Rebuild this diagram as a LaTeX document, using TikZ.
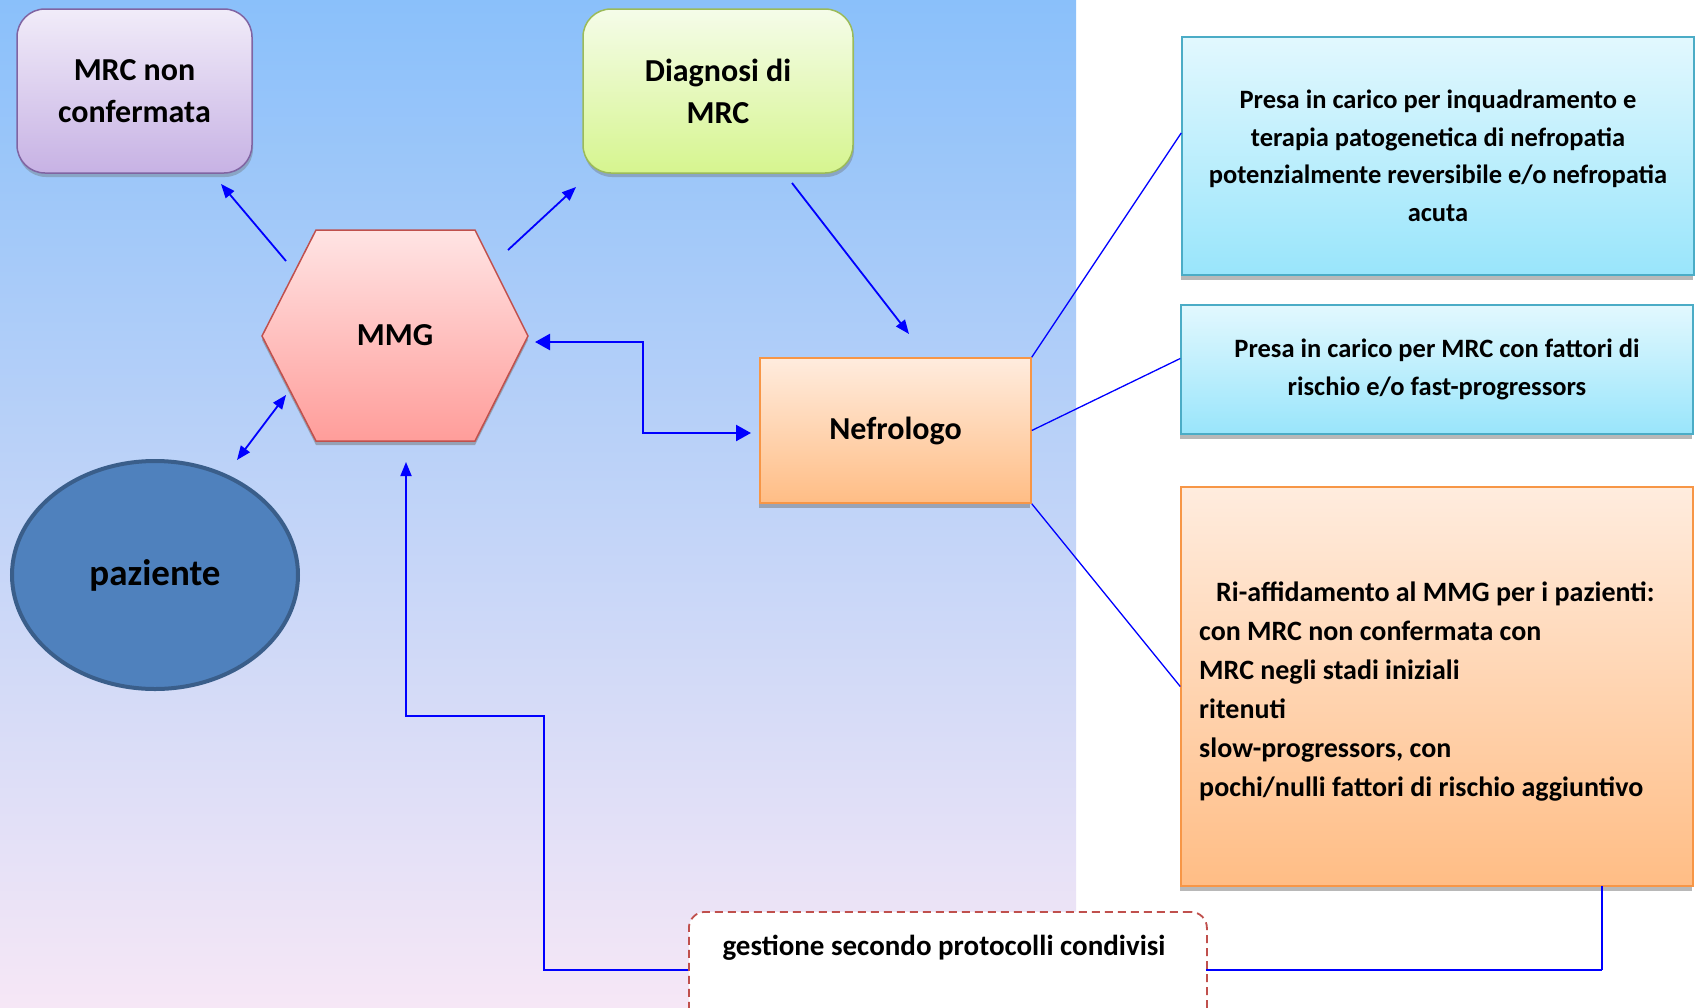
\documentclass[tikz,border=0pt]{standalone}
\usepackage{fontspec}
\setmainfont{Carlito}
\usetikzlibrary{arrows.meta,calc,shadings,shadows,shapes.geometric}
\definecolor{arr}{RGB}{0,0,255}
\definecolor{bgtop}{RGB}{138,192,250}
\definecolor{bgmid}{RGB}{200,220,243}
\definecolor{bgbot}{RGB}{246,231,246}
\definecolor{purB}{RGB}{128,100,162}
\definecolor{purT}{RGB}{241,236,249}
\definecolor{purD}{RGB}{199,178,228}
\definecolor{grnB}{RGB}{155,187,89}
\definecolor{grnT}{RGB}{245,252,233}
\definecolor{grnD}{RGB}{214,245,143}
\definecolor{redB}{RGB}{192,80,77}
\definecolor{redT}{RGB}{255,228,228}
\definecolor{redD}{RGB}{255,157,154}
\definecolor{orgB}{RGB}{247,150,70}
\definecolor{orgT}{RGB}{255,236,222}
\definecolor{orgD}{RGB}{255,189,133}
\definecolor{cyaB}{RGB}{75,172,198}
\definecolor{cyaT}{RGB}{226,248,254}
\definecolor{cyaD}{RGB}{153,229,251}
\definecolor{pazF}{RGB}{79,129,189}
\definecolor{pazB}{RGB}{58,94,138}
\newcommand\fsbig{\fontsize{32}{42}\selectfont}
\newcommand\fssmall{\fontsize{26.5}{37.5}\selectfont}
\begin{document}
\begin{tikzpicture}[x=1pt,y=-1pt,font=\bfseries,
  conn/.style={draw=arr,line width=1.8pt,-{Triangle[length=14pt,width=11pt]}},
  dconn/.style={draw=arr,line width=1.8pt,{Triangle[length=14pt,width=11pt]}-{Triangle[length=14pt,width=11pt]}},
  thin/.style={draw=arr,line width=1.3pt},
  rbox/.style={rounded corners=28pt,line width=1.5pt,inner sep=0pt,align=center,font=\bfseries\fsbig,
     drop shadow={shadow xshift=1pt,shadow yshift=-4pt,opacity=0.35,fill=black!60}},
  sbox/.style={line width=1.5pt,inner sep=0pt,align=center,font=\bfseries\fssmall,
     drop shadow={shadow xshift=-1pt,shadow yshift=-5pt,opacity=0.5,fill=black!55}},
]
\clip (0,0) rectangle (1700,1007);
\fill[white] (0,0) rectangle (1700,1007);
\shade[top color=bgtop,middle color=bgmid,bottom color=bgbot] (0,0) rectangle (1076,1007);

% nodes
\node[rbox,draw=purB,top color=purT,bottom color=purD,minimum width=235pt,minimum height=164pt]
  (mrc) at (134.5,91) {MRC non\\confermata};
\node[rbox,draw=grnB,top color=grnT,bottom color=grnD,minimum width=270pt,minimum height=164pt]
  (dia) at (718,91) {Diagnosi di\\MRC};
\node[sbox,draw=orgB,top color=orgT,bottom color=orgD,minimum width=271pt,minimum height=145pt,font=\bfseries\fsbig]
  (nef) at (895.5,430.5) {Nefrologo};
\node[sbox,draw=cyaB,top color=cyaT,bottom color=cyaD,minimum width=512pt,minimum height=238pt]
  (b1) at (1438,156) {Presa in carico per inquadramento e\\terapia patogenetica di nefropatia\\potenzialmente reversibile e/o nefropatia\\acuta};
\node[sbox,draw=cyaB,top color=cyaT,bottom color=cyaD,minimum width=512pt,minimum height=129pt]
  (b2) at (1437,369.5) {Presa in carico per MRC con fattori di\\rischio e/o fast-progressors};
\node[sbox,draw=orgB,top color=orgT,bottom color=orgD,minimum width=512pt,minimum height=399pt]
  (b3) at (1437,686.5) {};
\node[anchor=west,inner sep=0pt,align=left,font=\bfseries\fontsize{28}{39}\selectfont] (b3t) at (1199,692)
  {\hspace*{17pt}Ri-affidamento al MMG per i pazienti:\\con MRC non confermata con\\MRC negli stadi iniziali\\ritenuti\\slow-progressors, con\\pochi/nulli fattori di rischio aggiuntivo};

% hexagon MMG
\coordinate (h1) at (316,230); \coordinate (h2) at (475,230); \coordinate (h3) at (528,336);
\coordinate (h4) at (475,441); \coordinate (h5) at (316,441); \coordinate (h6) at (262,336);
\fill[black!55,opacity=0.5] ($(h1)+(0,4)$) -- ($(h2)+(0,4)$) -- ($(h3)+(0,4)$) -- ($(h4)+(0,4)$) -- ($(h5)+(0,4)$) -- ($(h6)+(0,4)$) -- cycle;
\shade[top color=redT,bottom color=redD] (h1) -- (h2) -- (h3) -- (h4) -- (h5) -- (h6) -- cycle;
\draw[redB,line width=1.5pt,line join=miter] (h1) -- (h2) -- (h3) -- (h4) -- (h5) -- (h6) -- cycle;
\node[font=\bfseries\fsbig] (mmg) at (395,335) {MMG};

% paziente
\node[ellipse,draw=pazB,fill=pazF,line width=4pt,minimum width=286pt,minimum height=228pt,inner sep=0pt,
  font=\bfseries\fontsize{37}{44}\selectfont] (paz) at (155,575) {paziente};

% gestione box
\node[draw=redB,dashed,dash pattern=on 8pt off 5pt,line width=1.8pt,fill=white,rounded corners=16pt,
  minimum width=518pt,minimum height=140pt,anchor=north west,inner sep=0pt] (gest) at (688,911) {};
\node[font=\bfseries\fontsize{29}{34}\selectfont] (gestt) at (944,948) {gestione secondo protocolli condivisi};

% connector end points
\coordinate (m1) at (286,261); \coordinate (m1e) at (221,184);
\coordinate (m2) at (508,250); \coordinate (m2e) at (576,187);
\coordinate (d1) at (792,183); \coordinate (d1e) at (909,334);
\coordinate (mr) at (535,342); \coordinate (nl) at (751,433);
\coordinate (pz) at (237,460); \coordinate (mb) at (286,395);
\coordinate (mu) at (406,462);
\coordinate (gl) at (688,970); \coordinate (gr) at (1206,970);
\coordinate (b3b) at (1602,886);

\draw[conn] (m1) -- (m1e);
\draw[conn] (m2) -- (m2e);
\draw[conn] (d1) -- (d1e);
\draw[dconn,line width=2.4pt,{Triangle[length=15pt,width=16pt]}-{Triangle[length=15pt,width=16pt]}] (mr) -- (643,342) -- (643,433) -- (nl);
\draw[dconn] (pz) -- (mb);
\draw[conn] (gl) -- (544,970) -- (544,716) -- (406,716) -- (mu);
\draw[draw=arr,line width=1.8pt] (gr) -- (b3b |- gr);
\draw[thin] (b3b |- gr) -- (b3b);
\draw[thin] (nef.north east) -- ($(b1.west)+(0,-23)$);
\draw[thin] (nef.east) -- ($(b2.west)+(0,-11)$);
\draw[thin] (nef.south east) -- ($(b3.west)+(0,0)$);
\end{tikzpicture}
\end{document}
